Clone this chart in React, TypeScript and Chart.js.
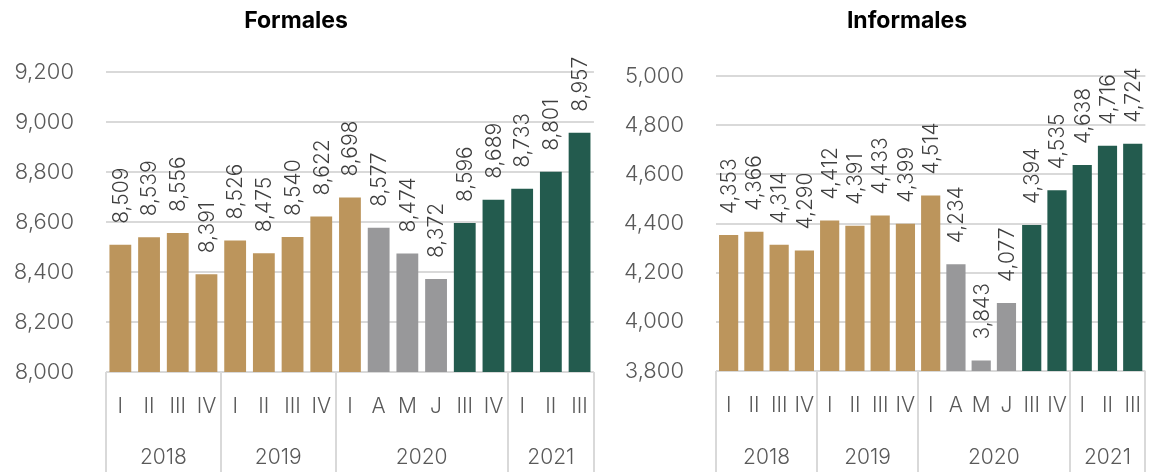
import React, { useEffect, useRef } from 'react';
import { Chart, registerables } from 'chart.js';

Chart.register(...registerables);

// ---- Data ----
const periodLabels = ['I', 'II', 'III', 'IV', 'I', 'II', 'III', 'IV', 'I', 'A', 'M', 'J', 'III', 'IV', 'I', 'II', 'III'];
const yearLabels = ['2018', '2019', '2020', '2021'];
const yearSpans = [4, 4, 6, 3];
const phases = ['pre', 'pre', 'pre', 'pre', 'pre', 'pre', 'pre', 'pre', 'pre', 'covid', 'covid', 'covid', 'post', 'post', 'post', 'post', 'post'];
const formales = [8509, 8539, 8556, 8391, 8526, 8475, 8540, 8622, 8698, 8577, 8474, 8372, 8596, 8689, 8733, 8801, 8957];
const informales = [4353, 4366, 4314, 4290, 4412, 4391, 4433, 4399, 4514, 4234, 3843, 4077, 4394, 4535, 4638, 4716, 4724];
const formalesRange = [8000, 9200];
const informalesRange = [3800, 5000];
const yStep = 200;

// ---- Styles ----
const FONT = 'Inter, "Open Sans", sans-serif';
const PHASE_COLORS: Record<string, string> = { pre: '#BC955C', covid: '#98989A', post: '#235B4E' };
const GRID = '#d9d9d9';
const TICK_COLOR = '#595959';
const LABEL_COLOR = '#3f3f3f';

const fmt = (v: number) => v.toLocaleString('en-US');

type PanelProps = {
  title: string;
  values: number[];
  range: number[];
  left: number;
  width: number;
  padTop: number;
  padRight: number;
  axisHeight: number;
  titleX: number;
};

function Panel({ title, values, range, left, width, padTop, padRight, axisHeight, titleX }: PanelProps) {
  const ref = useRef<HTMLCanvasElement | null>(null);

  useEffect(() => {
    if (!ref.current) return;
    const overlay = {
      id: 'overlay',
      afterDatasetsDraw(chart: any) {
        const ctx = chart.ctx;
        const meta = chart.getDatasetMeta(0);
        ctx.save();
        ctx.font = `300 21px ${FONT}`;
        ctx.fillStyle = LABEL_COLOR;
        ctx.textAlign = 'left';
        ctx.textBaseline = 'middle';
        meta.data.forEach((bar: any, i: number) => {
          ctx.save();
          ctx.translate(bar.x + 1, bar.y - 21);
          ctx.rotate(-Math.PI / 2);
          ctx.fillText(fmt(values[i]), 0, 0);
          ctx.restore();
        });
        ctx.restore();
      },
      afterDraw(chart: any) {
        const ctx = chart.ctx;
        const xs = chart.scales.x;
        const area = chart.chartArea;
        const H = chart.height;
        const boundary = (b: number) => {
          if (b <= 0) return xs.left;
          if (b >= periodLabels.length) return xs.right;
          return (xs.getPixelForValue(b - 1) + xs.getPixelForValue(b)) / 2;
        };
        ctx.save();
        ctx.strokeStyle = GRID;
        ctx.lineWidth = 2;
        let start = 0;
        const bounds = [0];
        yearSpans.forEach((s) => {
          start += s;
          bounds.push(start);
        });
        bounds.forEach((b) => {
          const x = Math.round(boundary(b));
          ctx.beginPath();
          ctx.moveTo(x, area.bottom);
          ctx.lineTo(x, H);
          ctx.stroke();
        });
        ctx.font = `300 21px ${FONT}`;
        ctx.fillStyle = TICK_COLOR;
        ctx.textAlign = 'center';
        ctx.textBaseline = 'middle';
        yearLabels.forEach((y, i) => {
          const x = (boundary(bounds[i]) + boundary(bounds[i + 1])) / 2;
          ctx.fillText(y, x, 458);
        });
        ctx.font = `bold 23px ${FONT}`;
        ctx.fillStyle = '#000000';
        ctx.fillText(title, titleX, 21);
        ctx.restore();
      },
    };

    const chart = new Chart(ref.current, {
      type: 'bar',
      data: {
        labels: periodLabels,
        datasets: [
          {
            data: values,
            backgroundColor: phases.map((p) => PHASE_COLORS[p]),
            borderWidth: 0,
            barPercentage: 0.76,
            categoryPercentage: 1,
          },
        ],
      },
      options: {
        responsive: false,
        animation: false,
        layout: { padding: { top: padTop, right: padRight, left: 0, bottom: 0 } },
        plugins: { legend: { display: false }, title: { display: false }, tooltip: { enabled: false } },
        scales: {
          x: {
            grid: { display: false, drawTicks: false },
            border: { display: false },
            ticks: {
              autoSkip: false,
              maxRotation: 0,
              minRotation: 0,
              padding: 22,
              color: TICK_COLOR,
              font: { family: FONT, size: 21, weight: '300' as any },
            },
            afterFit: (s: any) => {
              s.height = axisHeight;
            },
          },
          y: {
            min: range[0],
            max: range[1],
            grid: { color: GRID, lineWidth: 2, drawTicks: false },
            border: { display: false },
            ticks: {
              stepSize: yStep,
              padding: 32,
              color: TICK_COLOR,
              font: { family: FONT, size: 22, weight: '300' as any },
              callback: (v: any) => fmt(Number(v)),
            },
            afterFit: (s: any) => {
              s.width = 106;
            },
          },
        },
      },
      plugins: [overlay],
    });
    return () => chart.destroy();
  }, []);

  return (
    <canvas
      ref={ref}
      width={width}
      height={472}
      style={{ position: 'absolute', left, top: 0, width, height: 472, display: 'block' }}
    />
  );
}

export default function App() {
  return (
    <div style={{ position: 'fixed', left: 0, top: 0, width: 1161, height: 472, background: '#ffffff', overflow: 'hidden' }}>
      <Panel title="Formales" values={formales} range={formalesRange} left={0} width={610} padTop={72} padRight={6} axisHeight={100} titleX={296} />
      <Panel title="Informales" values={informales} range={informalesRange} left={610} width={553} padTop={76} padRight={0} axisHeight={101} titleX={297} />
    </div>
  );
}
